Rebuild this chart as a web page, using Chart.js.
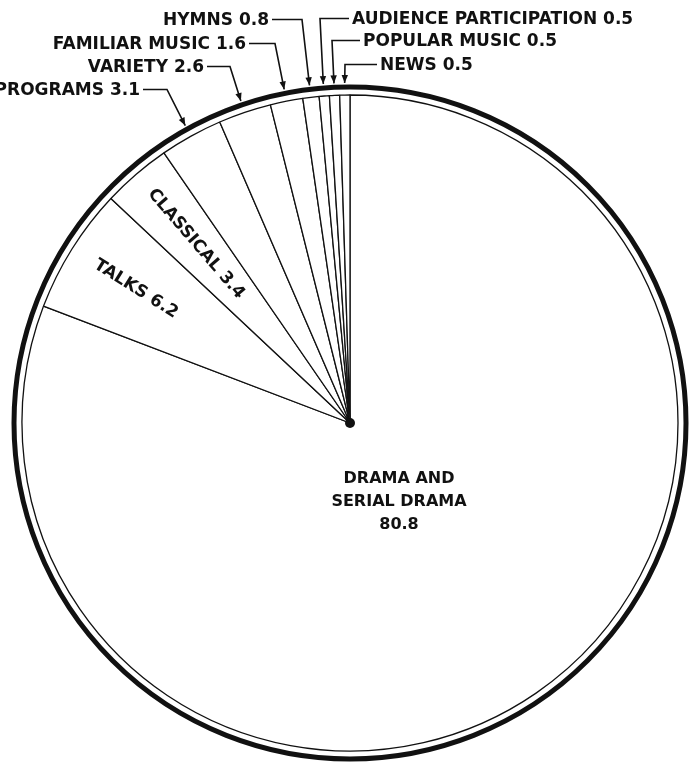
<!DOCTYPE html>
<html>
<head>
<meta charset="utf-8">
<script src="https://cdn.jsdelivr.net/npm/chart.js@4.4.1/dist/chart.umd.min.js"></script>
<style>
  html, body { margin: 0; padding: 0; background: #fff; }
  #wrap { width: 691px; height: 764px; }
</style>
</head>
<body>
<div id="wrap"><canvas id="pie" width="691" height="764"></canvas></div>
<script>
    // percent of programme time, clockwise from 12 o'clock
    const categories = [
        ['DRAMA AND', 'SERIAL DRAMA'],
        'TALKS',
        'CLASSICAL',
        'PROGRAMS',
        'VARIETY',
        'FAMILIAR MUSIC',
        'HYMNS',
        'AUDIENCE PARTICIPATION',
        'POPULAR MUSIC',
        'NEWS'
    ];
    const shares = [80.8, 6.2, 3.4, 3.1, 2.6, 1.6, 0.8, 0.5, 0.5, 0.5];

    // how each label is placed: 'center', 'radial' (along the wedge) or 'callout'
    const labelKind = ['center', 'radial', 'radial', 'callout', 'callout', 'callout', 'callout', 'callout', 'callout', 'callout'];

    // layout only: offset of the big label, distance of the radial ones, callout anchors
    const centerOffset = { dx: 49, dy: 79 };
    const radialDist = { 1: 0.77, 2: 0.72 };
    const callouts = {
        3: { x: 140, y: 91, side: 'left', elbow: 167 },
        4: { x: 204, y: 68, side: 'left', elbow: 230 },
        5: { x: 246, y: 45, side: 'left', elbow: 275 },
        6: { x: 269, y: 21, side: 'left', elbow: 302 },
        7: { x: 352, y: 20, side: 'right', elbow: 320 },
        8: { x: 363, y: 42, side: 'right', elbow: 332 },
        9: { x: 380, y: 66, side: 'right', elbow: 345 }
    };

    const FONT = '"DejaVu Sans", "Liberation Sans", sans-serif';
    const INK = '#111';

    function arrowTo(ctx, x0, y0, x1, y1) {
        const a = Math.atan2(y1 - y0, x1 - x0);
        const len = 8, half = 3.2;
        ctx.beginPath();
        ctx.moveTo(x1, y1);
        ctx.lineTo(x1 - len * Math.cos(a) + half * Math.sin(a), y1 - len * Math.sin(a) - half * Math.cos(a));
        ctx.lineTo(x1 - len * Math.cos(a) - half * Math.sin(a), y1 - len * Math.sin(a) + half * Math.cos(a));
        ctx.closePath();
        ctx.fill();
    }

    const ringAndLabels = {
        id: 'ringAndLabels',
        afterDatasetsDraw(chart) {
            const ctx = chart.ctx;
            const arcs = chart.getDatasetMeta(0).data;
            if (!arcs.length) return;
            const cx = arcs[0].x, cy = arcs[0].y, r = arcs[0].outerRadius;

            ctx.save();
            // heavy outer rim
            ctx.strokeStyle = INK;
            ctx.lineWidth = 5;
            ctx.beginPath();
            ctx.arc(cx, cy, r + 8, 0, Math.PI * 2);
            ctx.stroke();

            // hub
            ctx.fillStyle = INK;
            ctx.beginPath();
            ctx.arc(cx, cy, 5, 0, Math.PI * 2);
            ctx.fill();

            ctx.textBaseline = 'middle';

            arcs.forEach((arc, i) => {
                const mid = (arc.startAngle + arc.endAngle) / 2;
                const name = categories[i];
                const val = shares[i].toFixed(1);

                if (labelKind[i] === 'center') {
                    const lines = (Array.isArray(name) ? name : [name]).concat([val]);
                    ctx.font = 'bold 16px ' + FONT;
                    ctx.textAlign = 'center';
                    lines.forEach((ln, k) => {
                        ctx.fillText(ln, cx + centerOffset.dx, cy + centerOffset.dy + (k - (lines.length - 1) / 2) * 23);
                    });
                } else if (labelKind[i] === 'radial') {
                    const d = r * radialDist[i];
                    ctx.font = 'bold 17px ' + FONT;
                    ctx.save();
                    ctx.translate(cx + Math.cos(mid) * d, cy + Math.sin(mid) * d);
                    ctx.rotate(mid + Math.PI);
                    ctx.textAlign = 'center';
                    ctx.fillText(name + ' ' + val, 0, 0);
                    ctx.restore();
                } else {
                    const c = callouts[i];
                    const tipX = cx + Math.cos(mid) * (r + 12);
                    const tipY = cy + Math.sin(mid) * (r + 12);
                    const ly = c.y - 1.5;
                    ctx.font = 'bold 17px ' + FONT;
                    ctx.textAlign = c.side === 'left' ? 'right' : 'left';
                    ctx.fillText(name + ' ' + val, c.x, c.y);
                    const startX = c.side === 'left' ? c.x + 3 : c.x - 3;
                    ctx.strokeStyle = INK;
                    ctx.lineWidth = 1.6;
                    ctx.beginPath();
                    ctx.moveTo(startX, ly);
                    ctx.lineTo(c.elbow, ly);
                    ctx.lineTo(tipX, tipY);
                    ctx.stroke();
                    arrowTo(ctx, c.elbow, ly, tipX, tipY);
                }
            });
            ctx.restore();
        }
    };

    new Chart(document.getElementById('pie'), {
        type: 'pie',
        data: {
            labels: categories,
            datasets: [{
                data: shares,
                backgroundColor: '#ffffff',
                borderColor: INK,
                borderWidth: 1.3,
                radius: 328
            }]
        },
        options: {
            responsive: false,
            animation: false,
            layout: { padding: { left: 19, right: 10, top: 90, bottom: 8 } },
            plugins: {
                legend: { display: false },
                tooltip: { enabled: false }
            }
        },
        plugins: [ringAndLabels]
    });
</script>
</body>
</html>
